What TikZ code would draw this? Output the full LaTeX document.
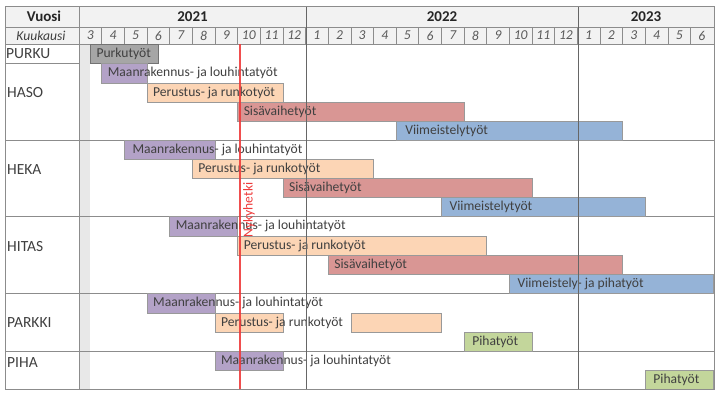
\documentclass[tikz,border=0pt]{standalone}
\usepackage{fontspec}
\setmainfont{Carlito}
\usepackage{tikz}

\definecolor{maacol}{HTML}{B3A2C7}
\definecolor{runkocol}{HTML}{FCD5B5}
\definecolor{sisacol}{HTML}{D99694}
\definecolor{viimcol}{HTML}{95B3D7}
\definecolor{pihacol}{HTML}{C3D69B}
\definecolor{purkucol}{HTML}{A6A6A6}
\definecolor{headcol}{HTML}{F2F2F2}
\definecolor{txtcol}{HTML}{404040}
\definecolor{nowcol}{HTML}{EE3B3B}

\begin{document}
\begin{tikzpicture}[x=1pt, y=-1pt,
    grid/.style={draw=black!45, line width=0.6pt},
    bar/.style={draw=black!40, line width=0.6pt},
    task/.style={anchor=west, inner sep=0pt, xshift=6pt, text=txtcol, font=\fontsize{13.6}{15}\selectfont},
    rowlbl/.style={anchor=west, inner sep=0pt, text=txtcol, font=\fontsize{15.5}{17}\selectfont},
    head/.style={font=\fontsize{15}{17}\bfseries\selectfont, text=black!85},
    month/.style={font=\fontsize{13.6}{15}\itshape\selectfont, text=black!65}]
    \useasboundingbox (0,0) rectangle (721,399);

    % header and grid
    \fill[headcol] (5,6) rectangle (714,44);
    \fill[black!9] (79,44) rectangle (90,389);
    \draw[grid] (5,27) -- (714,27);
    \draw[grid] (5,44) -- (714,44);
    \draw[grid] (5,63) -- (79,63);
    \foreach \y in {140,216,293,351}
      \draw[grid] (5,\y) -- (714,\y);
    \draw[grid] (79,6) -- (79,389);
    \foreach \i in {1,...,27}
      \draw[grid] (79+22.65*\i,27) -- (79+22.65*\i,44);

    \node[head] (vuosi) at (44,16.5) {Vuosi};
    \node[month, text=black!75] (kuukausi) at (41,35.5) {Kuukausi};
    \node[head] (y2021) at (192.5,16.5) {2021};
    \node[head] (y2022) at (442,16.5) {2022};
    \node[head] (y2023) at (646,16.5) {2023};
    \foreach \m [count=\i from 0] in {3,4,5,6,7,8,9,10,11,12,1,2,3,4,5,6,7,8,9,10,11,12,1,2,3,4,5,6}
      \node[month] (m\i) at (79+22.65*\i+11.3,35.5) {\m};

    \node[rowlbl] (purku) at (6,53.5) {PURKU};
    \node[rowlbl] (haso) at (7,93) {HASO};
    \node[rowlbl] (heka) at (7,170) {HEKA};
    \node[rowlbl] (hitas) at (7,247) {HITAS};
    \node[rowlbl] (parkki) at (7,323) {PARKKI};
    \node[rowlbl] (piha) at (7,363) {PIHA};

    % bars, x in months from 3/2021
    \begin{scope}[xshift=79pt, x=22.65pt]
      \draw[bar, fill=purkucol, draw=black!55] (0.5,44) rectangle (3.5,63);
      \node[task] (purku-bar) at (0.5,53.5) {Purkutyöt};

      \draw[bar, fill=maacol] (1,63) rectangle (3,83);
      \node[task] (haso-maa) at (1,73) {Maanrakennus- ja louhintatyöt};
      \draw[bar, fill=runkocol] (3,83) rectangle (9,102);
      \node[task] (haso-runko) at (3,92.5) {Perustus- ja runkotyöt};
      \draw[bar, fill=sisacol] (7,102) rectangle (17,121);
      \node[task] (haso-sisa) at (7,111.5) {Sisävaihetyöt};
      \draw[bar, fill=viimcol] (14,121) rectangle (24,140);
      \node[task, xshift=3pt] (haso-viim) at (14,130.5) {Viimeistelytyöt};

      \draw[bar, fill=maacol] (2,140) rectangle (6,159);
      \node[task, xshift=2pt] (heka-maa) at (2,149.5) {Maanrakennus- ja louhintatyöt};
      \draw[bar, fill=runkocol] (5,159) rectangle (13,178);
      \node[task] (heka-runko) at (5,168.5) {Perustus- ja runkotyöt};
      \draw[bar, fill=sisacol] (9,178) rectangle (20,197);
      \node[task] (heka-sisa) at (9,187.5) {Sisävaihetyöt};
      \draw[bar, fill=viimcol] (16,197) rectangle (25,216);
      \node[task, xshift=2pt] (heka-viim) at (16,206.5) {Viimeistelytyöt};

      \draw[bar, fill=maacol] (4,216) rectangle (7,236);
      \node[task] (hitas-maa) at (4,226) {Maanrakennus- ja louhintatyöt};
      \draw[bar, fill=runkocol] (7,236) rectangle (18,255);
      \node[task] (hitas-runko) at (7,245.5) {Perustus- ja runkotyöt};
      \draw[bar, fill=sisacol] (11,255) rectangle (24,274);
      \node[task] (hitas-sisa) at (11,264.5) {Sisävaihetyöt};
      \draw[bar, fill=viimcol] (19,274) rectangle (28,293);
      \node[task, xshift=2pt] (hitas-viim) at (19,283.5) {Viimeistely- ja pihatyöt};

      \draw[bar, fill=maacol] (3,293) rectangle (6,313);
      \node[task] (parkki-maa) at (3,303) {Maanrakennus- ja louhintatyöt};
      \draw[bar, fill=runkocol] (6,313) rectangle (9,332);
      \draw[bar, fill=runkocol] (12,313) rectangle (16,332);
      \node[task] (parkki-runko) at (6,322.5) {Perustus- ja runkotyöt};
      \draw[bar, fill=pihacol] (17,332) rectangle (20,351);
      \node[task, xshift=2pt] (parkki-piha) at (17,341.5) {Pihatyöt};

      \draw[bar, fill=maacol] (6,351) rectangle (9,370);
      \node[task] (piha-maa) at (6,360.5) {Maanrakennus- ja louhintatyöt};
      \draw[bar, fill=pihacol] (25,370) rectangle (28,389);
      \node[task, xshift=2pt] (piha-piha) at (25,379.5) {Pihatyöt};
    \end{scope}

    % year borders on top
    \draw[grid, draw=black!60] (306,6) -- (306,389);
    \draw[grid, draw=black!60] (578,6) -- (578,389);
    \draw[grid] (5,6) rectangle (714,389);

    % current moment
    \draw[nowcol, line width=2.6pt, opacity=0.9] (240,44) -- (240,389);
    \node[rotate=90, text=nowcol, font=\fontsize{13.6}{15}\selectfont] (nyky) at (249,210) {Nykyhetki};

  \end{tikzpicture}
\end{document}
